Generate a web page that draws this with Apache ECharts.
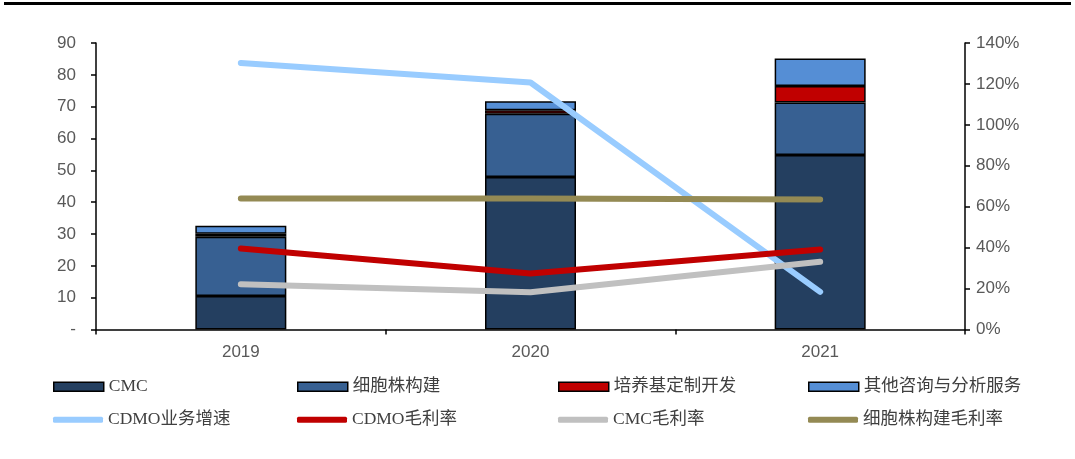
<!DOCTYPE html>
<html>
<head>
<meta charset="utf-8">
<style>
  html, body { margin: 0; padding: 0; background: #fff; }
  #chart { width: 1075px; height: 459px; }
</style>
<script src="https://cdn.jsdelivr.net/npm/echarts@6/dist/echarts.min.js"></script>
</head>
<body>
<div id="chart"></div>
<script>
// Years on the category axis
const years = ['2019', '2020', '2021'];

// Revenue by business line (stacked bars, left axis)
const cmc = [10.5, 47.9, 54.8];
const cellLine = [18.6, 19.9, 16.5];
const mediaDev = [1.0, 1.1, 5.2];
const otherServices = [2.5, 2.8, 8.6];

// Growth and gross margins, in percent (lines, right axis)
const cdmoGrowth = [130.2, 120.7, 18.4];
const cdmoMargin = [39.6, 27.4, 39.1];
const cmcMargin = [22.1, 18.2, 33.1];
const cellLineMargin = [64.0, 64.0, 63.5];

// Series names as shown in the legend
const names = {
  cmc: 'CMC',
  cell: '细胞株构建',
  media: '培养基定制开发',
  other: '其他咨询与分析服务',
  growth: 'CDMO业务增速',
  cdmoM: 'CDMO毛利率',
  cmcM: 'CMC毛利率',
  cellM: '细胞株构建毛利率'
};

const colors = {
  cmc: '#243F60',
  cell: '#376092',
  media: '#C00000',
  other: '#558ED5',
  growth: '#99CCFF',
  cdmoM: '#C00000',
  cmcM: '#C0C0C0',
  cellM: '#948A54'
};

const labelGray = '#595959';
const axisFont = '"Liberation Sans", Arial, sans-serif';
const legendFont = '"Liberation Serif", "Noto Sans CJK SC", serif';

function barSeries(key, data) {
  return {
    name: names[key],
    type: 'bar',
    stack: 'rev',
    yAxisIndex: 0,
    barWidth: 91,
    data: data,
    itemStyle: { color: colors[key], borderColor: '#000', borderWidth: 1.5 },
    z: 2
  };
}

function lineSeries(key, data) {
  return {
    name: names[key],
    type: 'line',
    yAxisIndex: 1,
    data: data,
    symbol: 'none',
    smooth: false,
    lineStyle: { color: colors[key], width: 6, cap: 'round', join: 'round' },
    itemStyle: { color: colors[key] },
    z: 5
  };
}

// One legend block per entry so each sits in its own column
const legendSlots = [
  { key: 'cmc', left: 53, top: 378, bar: true },
  { key: 'cell', left: 297, top: 378, bar: true },
  { key: 'media', left: 558, top: 378, bar: true },
  { key: 'other', left: 808, top: 378, bar: true },
  { key: 'growth', left: 53, top: 411, bar: false },
  { key: 'cdmoM', left: 297, top: 411, bar: false },
  { key: 'cmcM', left: 558, top: 411, bar: false },
  { key: 'cellM', left: 808, top: 411, bar: false }
];

const legends = legendSlots.map(s => ({
  data: [s.bar
    ? { name: names[s.key], icon: 'rect', itemStyle: { borderColor: '#000', borderWidth: 1.5 } }
    : { name: names[s.key], icon: 'roundRect' }],
  left: s.left,
  top: s.top,
  itemWidth: 50,
  itemHeight: s.bar ? 9 : 6,
  itemGap: 0,
  selectedMode: false,
  padding: 0,
  textStyle: { fontFamily: legendFont, fontSize: 17.5, color: '#404040' }
}));

const chart = echarts.init(document.getElementById('chart'), null, { renderer: 'canvas' });

chart.setOption({
  animation: false,
  backgroundColor: '#fff',
  graphic: [{
    type: 'rect',
    shape: { x: 4, y: 2, width: 1067, height: 3 },
    style: { fill: '#000' }
  }],
  legend: legends,
  grid: { left: 96, right: 110, top: 43, bottom: 129.5 },
  xAxis: {
    type: 'category',
    data: years,
    boundaryGap: true,
    axisLine: { lineStyle: { color: '#000', width: 1.5 } },
    axisTick: { show: true, length: 5, lineStyle: { color: '#000', width: 1.5 } },
    axisLabel: { color: labelGray, fontSize: 17, fontFamily: axisFont, margin: 14 }
  },
  yAxis: [{
    type: 'value',
    min: 0,
    max: 90,
    interval: 10,
    splitLine: { show: false },
    axisLine: { show: true, lineStyle: { color: '#000', width: 1.5 } },
    axisTick: { show: true, length: 5, lineStyle: { color: '#000', width: 1.5 } },
    axisLabel: {
      color: labelGray, fontSize: 17, fontFamily: axisFont, margin: 20,
      formatter: v => (v === 0 ? '-' : String(v))
    }
  }, {
    type: 'value',
    min: 0,
    max: 140,
    interval: 20,
    position: 'right',
    splitLine: { show: false },
    axisLine: { show: true, lineStyle: { color: '#000', width: 1.5 } },
    axisTick: { show: true, length: 5, lineStyle: { color: '#000', width: 1.5 } },
    axisLabel: {
      color: labelGray, fontSize: 17, fontFamily: axisFont, margin: 11,
      formatter: v => v + '%'
    }
  }],
  series: [
    barSeries('cmc', cmc),
    barSeries('cell', cellLine),
    barSeries('media', mediaDev),
    barSeries('other', otherServices),
    lineSeries('growth', cdmoGrowth),
    lineSeries('cdmoM', cdmoMargin),
    lineSeries('cmcM', cmcMargin),
    lineSeries('cellM', cellLineMargin)
  ]
});
</script>
</body>
</html>
